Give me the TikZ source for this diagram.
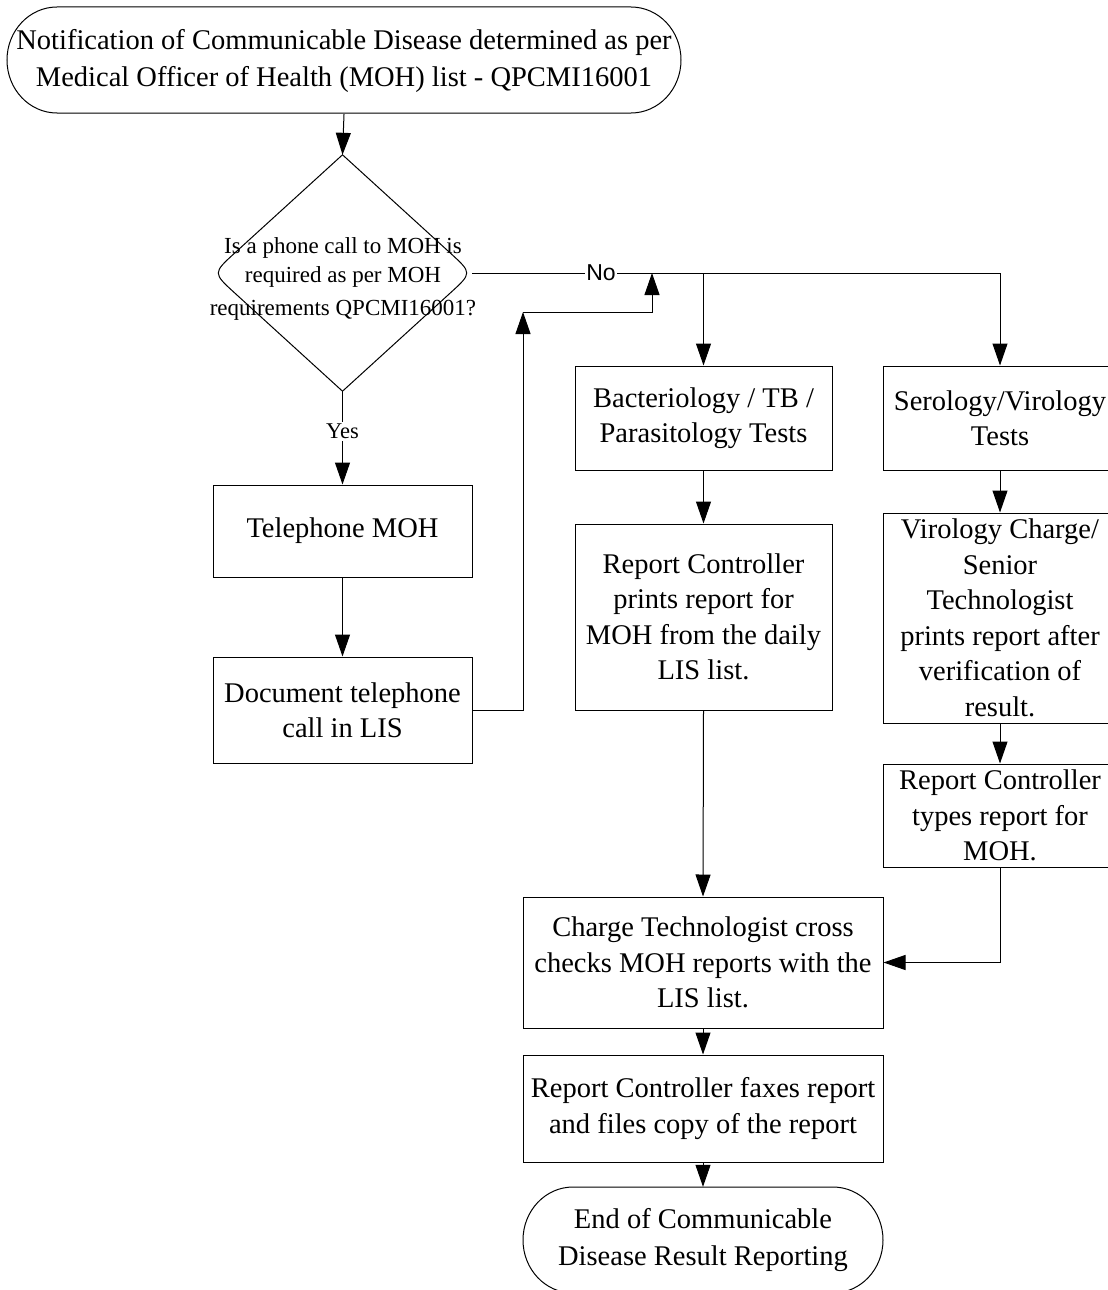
\documentclass[tikz,border=0pt]{standalone}
\usepackage{fontspec}
\setmainfont{Liberation Serif}
\newfontfamily\labelsans{Liberation Sans}
\usetikzlibrary{arrows.meta,calc}
\tikzset{
  line/.style={line width=1pt, draw=black},
  arr/.style={line width=1pt, draw=black, -{Triangle[length=22pt,width=15pt]}},
  procbox/.style={draw=black, line width=1pt, rectangle, align=center, inner sep=0pt,
     font=\fontsize{28.5}{35.5}\selectfont},
  frame/.style={rectangle, draw=none, inner sep=0pt, align=center,
     font=\fontsize{28.5}{36.5}\selectfont},
  lbl/.style={fill=white, inner sep=2pt, font=\fontsize{22.5}{26}\selectfont}
}
\begin{document}
\begin{tikzpicture}[x=1pt,y=-1pt]
\useasboundingbox (0,0) rectangle (1108,1290);

% start terminal
\node[frame, minimum width=674, minimum height=106] (start) at (344,61)
  {Notification of Communicable Disease determined as per\\Medical Officer of Health (MOH) list - QPCMI16001};
\draw[line] (57,7) -- (631,7) arc[start angle=-90, end angle=90, x radius=50, y radius=53]
  -- (57,113) arc[start angle=90, end angle=270, x radius=50, y radius=53] -- cycle;

% decision
\node[rectangle, draw=none, minimum width=259, minimum height=236, inner sep=0pt] (dec) at (342.5,273) {};
\draw[line] (dec.north) -- ($(dec.east)!0.17!(dec.north)$) .. controls (dec.east) .. ($(dec.east)!0.17!(dec.south)$)
  -- (dec.south) -- ($(dec.west)!0.17!(dec.south)$) .. controls (dec.west) .. ($(dec.west)!0.17!(dec.north)$) -- cycle;
\node[font=\fontsize{23}{29}\selectfont, align=center, inner sep=0pt] (dectext) at (343,279)
  {Is a phone call to MOH is\\required as per MOH\\[4pt]requirements QPCMI16001?};

% left column
\node[procbox, minimum width=259, minimum height=92] (tel) at (342.5,531) {Telephone MOH};
\node[procbox, minimum width=259, minimum height=106] (doc) at (342.5,710) {Document telephone\\call in LIS};

% middle column
\node[procbox, minimum width=257, minimum height=104] (bac) at (703.5,418) {Bacteriology / TB /\\Parasitology Tests};
\node[procbox, minimum width=257, minimum height=186] (rc1) at (703.5,617) {Report Controller\\prints report for\\MOH from the daily\\LIS list.};

% right column
\node[procbox, minimum width=234, minimum height=104] (ser) at (1000,418) {Serology/Virology\\Tests};
\node[procbox, minimum width=234, minimum height=210] (vir) at (1000,618) {Virology Charge/\\Senior\\Technologist\\prints report after\\verification of\\result.};
\node[procbox, minimum width=234, minimum height=103] (rc2) at (1000,815.5) {Report Controller\\types report for\\MOH.};

% bottom
\node[procbox, minimum width=360, minimum height=131] (chk) at (703,962.5) {Charge Technologist cross\\checks MOH reports with the\\LIS list.};
\node[procbox, minimum width=360, minimum height=107] (fax) at (703,1108.5) {Report Controller faxes report\\and files copy of the report};
\node[frame, minimum width=360, minimum height=106] (endt) at (703,1240) {End of Communicable\\Disease Result Reporting};
\draw[line] (573,1187) -- (833,1187) arc[start angle=-90, end angle=90, x radius=50, y radius=53]
  -- (573,1293) arc[start angle=90, end angle=270, x radius=50, y radius=53] -- cycle;

% connectors
\draw[arr] (start.south) -- (dec.north);
\draw[arr] (dec.south) -- (tel.north) node[lbl, pos=0.43] (yes) {Yes};
\draw[arr] (tel.south) -- (doc.north);

\draw[arr] (dec.east) -- (ser.north |- dec.east) -- (ser.north);
\draw[arr] (bac.north |- dec.east) -- (bac.north);
\node[fill=white, inner sep=1pt, font=\labelsans\fontsize{23}{26}\selectfont] (no) at (601,273) {No};

\coordinate (j1) at (652,273);
\coordinate (j2) at (652,312);
\coordinate (j3) at (523,312);
\draw[arr] (doc.east) -- (doc.east -| j3) -- (j3);
\draw[arr] (j3) -- (j2) -- (j1);

\draw[arr] (bac.south) -- (rc1.north);
\draw[arr] (rc1.south) -- (chk.north);
\draw[arr] (ser.south) -- (vir.north);
\draw[arr] (vir.south) -- (rc2.north);
\draw[arr] (rc2.south) |- (chk.east);
\draw[arr] (chk.south) -- (fax.north);
\draw[arr] (fax.south) -- (endt.north);
\end{tikzpicture}
\end{document}
